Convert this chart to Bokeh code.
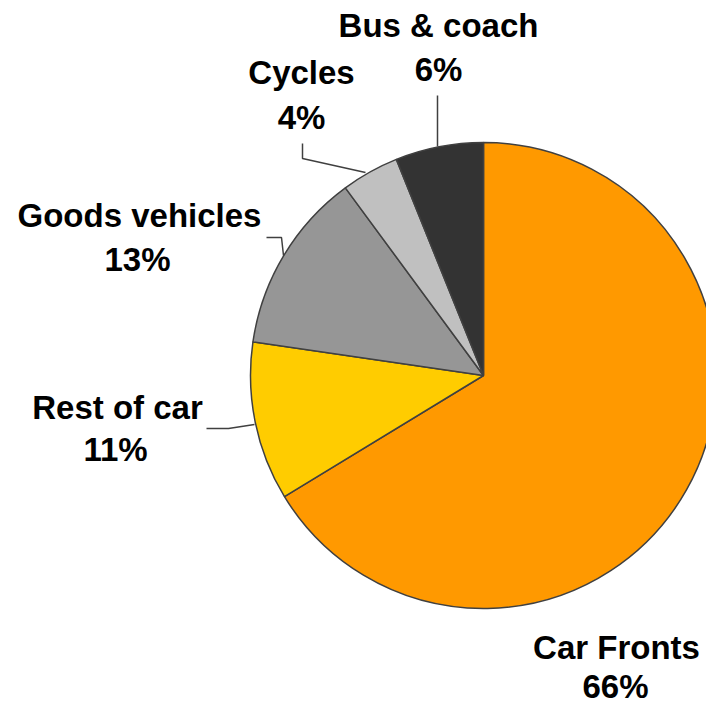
from bokeh.plotting import figure
from bokeh.models import ColumnDataSource, Range1d
from bokeh.core.properties import value
from bokeh.embed import file_html
from bokeh.resources import INLINE
import math

# ---- data ----
categories = ["Car Fronts", "Rest of car", "Goods vehicles", "Cycles", "Bus & coach"]
shares = [66.3, 11.0, 12.6, 4.0, 6.1]
pct_labels = ["66%", "11%", "13%", "4%", "6%"]
colors = ["#FF9900", "#FFCC00", "#969696", "#C0C0C0", "#333333"]

# ---- layout (picture pixel coordinates: x right, y = 709 - screen y) ----
W, H = 706, 709
def Y(sy):
    return 709 - sy

cx, cy, r = 483, Y(375), 233

total = sum(shares)
starts, ends = [], []
acc = 0
for s in shares:
    starts.append(math.pi / 2 - 2 * math.pi * acc / total)
    acc += s
    ends.append(math.pi / 2 - 2 * math.pi * acc / total)

src = ColumnDataSource(dict(cat=categories, start=starts, end=ends, color=colors))

p = figure(width=W, height=H, output_backend="svg", toolbar_location=None,
           x_range=Range1d(0, W), y_range=Range1d(709 - H, 709),
           min_border=0)
p.axis.visible = False
p.grid.visible = False
p.outline_line_color = None
p.background_fill_color = "white"

p.wedge(x=cx, y=cy, radius=r, start_angle="start", end_angle="end",
        direction="clock", fill_color="color", line_color="#404040",
        line_width=1.5, source=src)

# leader lines
lead_color = "#404040"
p.line([437, 437], [Y(95), Y(146)], line_color=lead_color, line_width=1.5)
p.line([302, 302, 365], [Y(143), Y(158), Y(172)], line_color=lead_color, line_width=1.5)
p.line([266, 281, 283], [Y(237), Y(237), Y(255)], line_color=lead_color, line_width=1.5)
p.line([206, 228, 254], [Y(428), Y(428), Y(424)], line_color=lead_color, line_width=1.5)

# labels: name line and percent line
name_x = [616, 117, 139, 301, 438]
name_y = [Y(647), Y(407), Y(215), Y(72), Y(25)]
pct_x = [615, 115, 137, 301, 438]
pct_y = [Y(686), Y(449), Y(259), Y(117), Y(69)]

font = value("Liberation Sans")
p.text(x=name_x, y=name_y, text=categories, text_font=font, text_font_size="33px",
       text_font_style="bold", text_align="center", text_baseline="middle",
       text_color="black")
p.text(x=pct_x, y=pct_y, text=pct_labels, text_font=font, text_font_size="33px",
       text_font_style="bold", text_align="center", text_baseline="middle",
       text_color="black")

open("out.html", "w").write(file_html(p, INLINE))
